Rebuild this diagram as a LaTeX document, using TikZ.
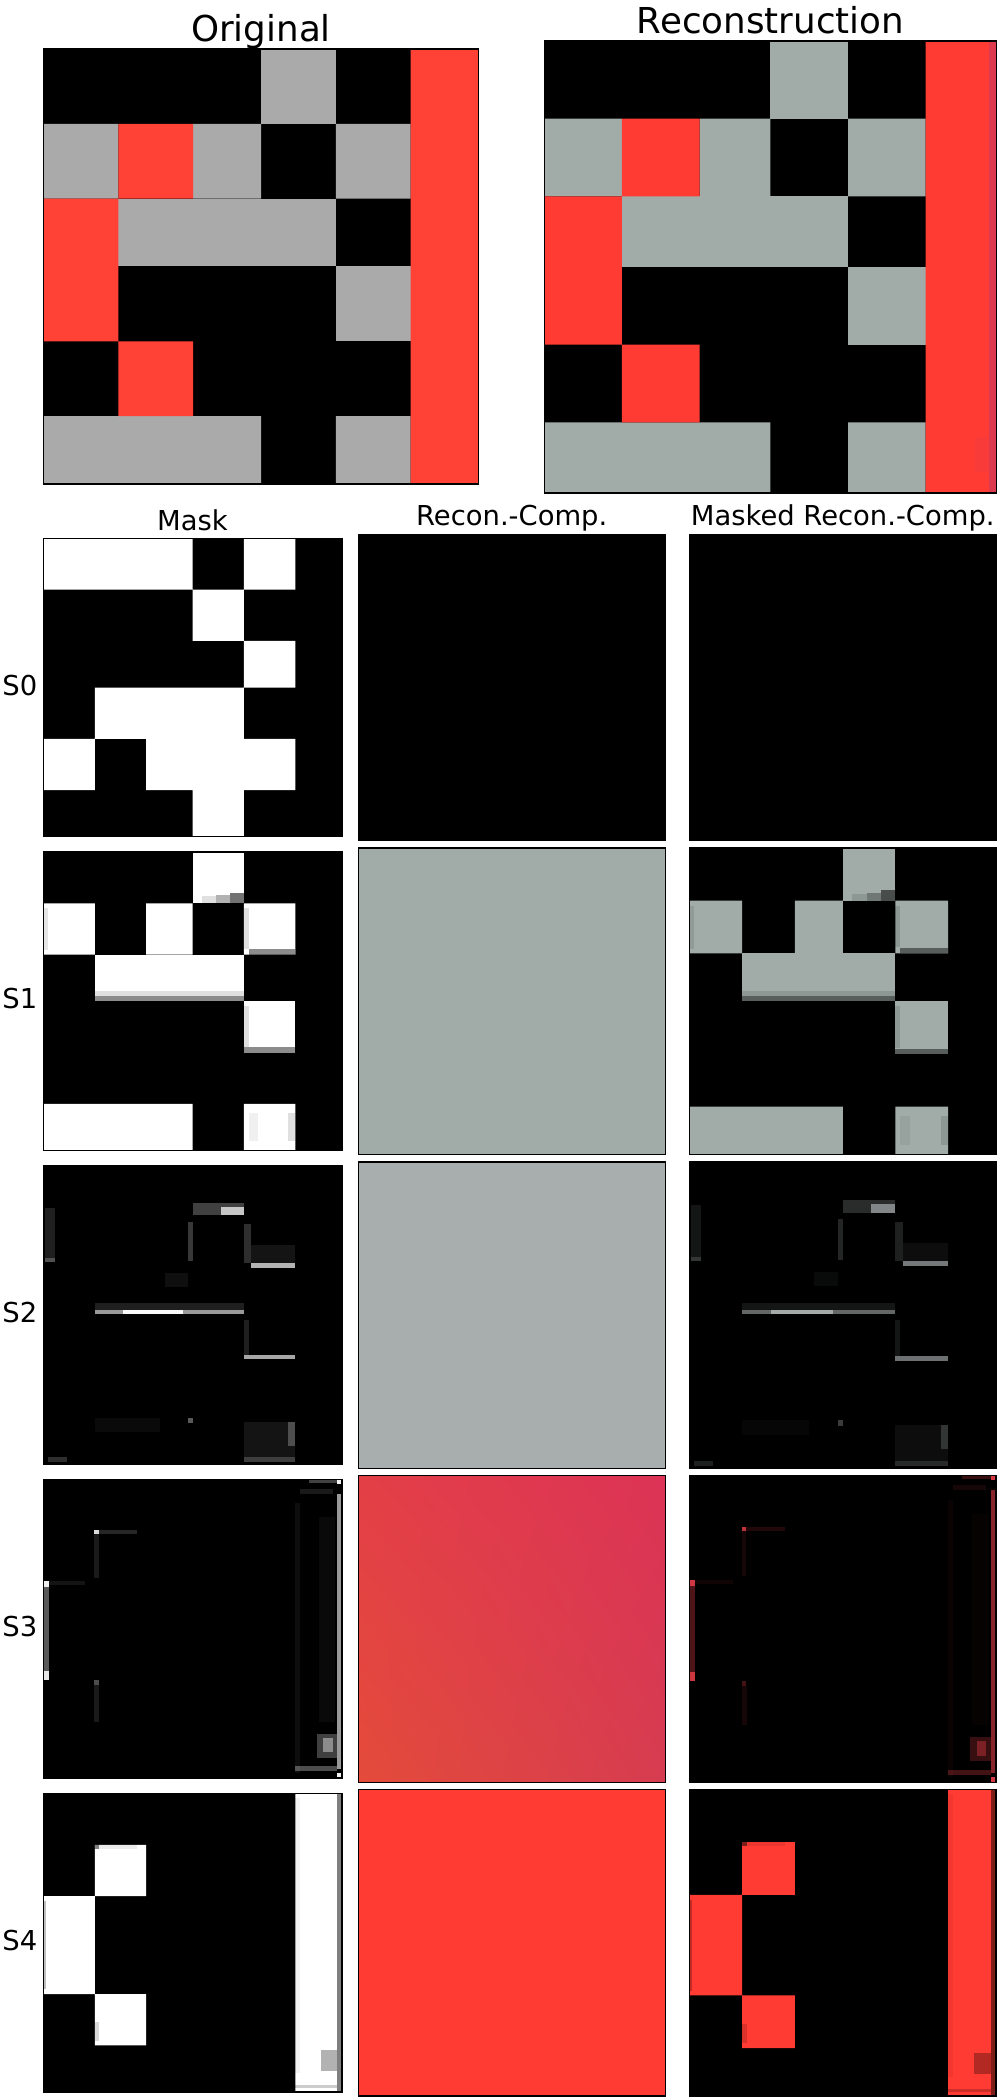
\documentclass[tikz,border=0pt]{standalone}
\usepackage{fontspec}
\setmainfont{DejaVu Sans}
\usetikzlibrary{shadings}
\definecolor{ogray}{RGB}{170,170,170}
\definecolor{ored}{RGB}{255,65,54}
\definecolor{rgray}{RGB}{161,172,168}
\definecolor{rred}{RGB}{255,59,51}
\definecolor{redge}{RGB}{220,58,79}
\definecolor{gtwo}{RGB}{168,173,173}
\definecolor{rthree}{RGB}{225,60,70}
\definecolor{tl}{RGB}{227,63,71}
\definecolor{tr}{RGB}{220,51,86}
\definecolor{bl}{RGB}{228,75,58}
\definecolor{br}{RGB}{214,60,80}
\tikzset{
  frame/.style={draw=black, line width=1.3pt},
  titletext/.style={font=\fontsize{35.7}{43}\selectfont, inner sep=0pt},
  headtext/.style={font=\fontsize{27.4}{33}\selectfont, inner sep=0pt},
}
% cell patterns in a 64x64 panel
\newcommand\grayCells[1]{%
  \fill[#1] (32,0) rectangle (43,11);
  \fill[#1] (0,11) rectangle (11,22) (22,11) rectangle (32,22) (43,11) rectangle (54,22);
  \fill[#1] (11,22) rectangle (43,32);
  \fill[#1] (43,32) rectangle (54,43);
  \fill[#1] (0,54) rectangle (32,64) (43,54) rectangle (54,64);}
\newcommand\redCells[1]{%
  \fill[#1] (54,0) rectangle (64,64) (11,11) rectangle (22,22) (0,22) rectangle (11,43) (11,43) rectangle (22,54);}
\newcommand\blackCells[1]{%
  \fill[#1] (0,0) rectangle (32,11) (43,0) rectangle (54,11) (32,11) rectangle (43,22)
    (43,22) rectangle (54,32) (11,32) rectangle (43,43) (0,43) rectangle (11,54)
    (22,43) rectangle (54,54) (32,54) rectangle (43,64);}
\newcommand\softOne{%
  \fill[black,opacity=0.12] (34,9.5) rectangle (37,11);
  \fill[black,opacity=0.3] (37,9.3) rectangle (40,11);
  \fill[black,opacity=0.55] (40,8.7) rectangle (43,11);
  \fill[black,opacity=0.12] (43,12) rectangle (44,20.7);
  \fill[black,opacity=0.45] (44,20.8) rectangle (54,22);
  \fill[black,opacity=0.1] (0,12) rectangle (1,21);
  \fill[black,opacity=0.12] (11,29.8) rectangle (43,30.8);
  \fill[black,opacity=0.45] (11,30.8) rectangle (43,32);
  \fill[black,opacity=0.12] (43,33) rectangle (44,41.8);
  \fill[black,opacity=0.45] (43,41.9) rectangle (54,43);
  \fill[black,opacity=0.12] (52.5,56) rectangle (54,62);
  \fill[black,opacity=0.06] (44,56) rectangle (46,62);}
\newcommand\artTwo[1]{%
  \fill[#1,opacity=0.25] (32,8) rectangle (43,10.6);
  \fill[#1,opacity=0.7] (38,8.8) rectangle (43,10.6);
  \fill[#1,opacity=0.12] (0.3,9) rectangle (2.5,20.7);
  \fill[#1,opacity=0.22] (0.3,19.8) rectangle (2.5,20.7);
  \fill[#1,opacity=0.22] (31,12) rectangle (32,20.5);
  \fill[#1,opacity=0.06] (26,23) rectangle (31,26);
  \fill[#1,opacity=0.18] (43,12.5) rectangle (44.5,20.8);
  \fill[#1,opacity=0.08] (44.5,17) rectangle (54,20.8);
  \fill[#1,opacity=0.7] (44.5,20.8) rectangle (54,21.8);
  \fill[#1,opacity=0.12] (11,29.5) rectangle (43,30.9);
  \fill[#1,opacity=0.6] (11,30.9) rectangle (43,31.8);
  \fill[#1,opacity=0.95] (17,30.9) rectangle (30,31.8);
  \fill[#1,opacity=0.12] (43,33) rectangle (44,40.5);
  \fill[#1,opacity=0.65] (43,40.5) rectangle (54,41.5);
  \fill[#1,opacity=0.08] (43,55) rectangle (54,63.5);
  \fill[#1,opacity=0.25] (52.5,55) rectangle (54,60);
  \fill[#1,opacity=0.18] (43,62.5) rectangle (54,63.5);
  \fill[#1,opacity=0.35] (31,54) rectangle (32,55.2);
  \fill[#1,opacity=0.04] (11,54) rectangle (25,57);
  \fill[#1,opacity=0.18] (1,62.5) rectangle (5,63.5);}
\newcommand\artThree[1]{%
  \fill[#1,opacity=0.6] (63,3) rectangle (63.7,62);
  \fill[#1,opacity=0.95] (63,0) rectangle (63.7,1);
  \fill[#1,opacity=0.25] (57,0) rectangle (63,0.8);
  \fill[#1,opacity=0.95] (63,63) rectangle (63.7,64);
  \fill[#1,opacity=0.35] (0.2,21.8) rectangle (1.1,42.9);
  \fill[#1,opacity=0.9] (0.2,21.8) rectangle (1.1,23);
  \fill[#1,opacity=0.85] (0.2,41) rectangle (1.1,42.9);
  \fill[#1,opacity=0.08] (1.1,21.8) rectangle (9,22.6);
  \fill[#1,opacity=0.85] (10.9,10.7) rectangle (11.8,11.6);
  \fill[#1,opacity=0.15] (11.8,10.7) rectangle (20,11.6);
  \fill[#1,opacity=0.1] (10.9,11.6) rectangle (11.8,21);
  \fill[#1,opacity=0.3] (10.9,42.9) rectangle (11.8,44);
  \fill[#1,opacity=0.1] (10.9,44) rectangle (12,52);
  \fill[#1,opacity=0.05] (53.9,5) rectangle (55,63);
  \fill[#1,opacity=0.1] (55,2) rectangle (62,3);
  \fill[#1,opacity=0.035] (59,8) rectangle (62.5,52);
  \fill[#1,opacity=0.25] (58.6,54.6) rectangle (62.9,59.6);
  \fill[#1,opacity=0.4] (60,55.5) rectangle (62,58.5);
  \fill[#1,opacity=0.3] (53.9,61.4) rectangle (63,62.5);}
\newcommand\softFour{%
  \fill[black,opacity=0.5] (63,0) rectangle (64,64);
  \fill[black,opacity=0.05] (54,1) rectangle (55,60);
  \fill[black,opacity=0.3] (59.5,55) rectangle (63,59.5);
  \fill[black,opacity=0.2] (54,62.5) rectangle (63,63.2);
  \fill[black,opacity=0.25] (0,23) rectangle (0.6,42);
  \fill[black,opacity=0.5] (11,10.7) rectangle (12,11.8);
  \fill[black,opacity=0.08] (12,10.7) rectangle (20,11.8);
  \fill[black,opacity=0.15] (11,49) rectangle (12,53);}
\begin{document}
\begin{tikzpicture}[x=1pt,y=-1pt]
\useasboundingbox (0,0) rectangle (1000,2100);
\fill[white] (0,0) rectangle (1000,2100);

% ---------- titles ----------
\node[titletext, anchor=base] (tOrig) at (261,41.7) {Original};
\node[titletext, anchor=base] (tRec) at (770.5,33.3) {Reconstruction};

% ---------- Original ----------
\begin{scope}[shift={(43.5,49)}, scale=6.796875]
  \fill[black] (0,0) rectangle (64,64);
  \grayCells{ogray}
  \redCells{ored}
  \draw[frame] (0,0) rectangle (64,64);
\end{scope}

% ---------- Reconstruction ----------
\begin{scope}[shift={(544.3,41)}, scale=7.0625]
  \fill[black] (0,0) rectangle (64,64);
  \grayCells{rgray}
  \redCells{rred}
  \fill[redge] (63,0) rectangle (64,64);
  \fill[redge,opacity=0.2] (61,56) rectangle (63,61);
  \draw[frame] (0,0) rectangle (64,64);
\end{scope}

% ---------- column headers ----------
\node[headtext, anchor=base] (hMask) at (192.5,530) {Mask};
\node[headtext, anchor=base] (hRC) at (511.7,525) {Recon.-Comp.};
\node[headtext, anchor=base] (hMRC) at (842.75,525) {Masked Recon.-Comp.};

% ---------- row labels ----------
\node[headtext, anchor=base east] (l0) at (37.5,695) {S0};
\node[headtext, anchor=base east] (l1) at (37.5,1008.8) {S1};
\node[headtext, anchor=base east] (l2) at (37.5,1322.6) {S2};
\node[headtext, anchor=base east] (l3) at (37.5,1636.4) {S3};
\node[headtext, anchor=base east] (l4) at (37.5,1950.2) {S4};

% ---------- S0 ----------
\begin{scope}[shift={(43.5,538.3)}, scale=4.6625]
  \fill[black] (0,0) rectangle (64,64);
  \blackCells{white}
  \draw[frame] (0,0) rectangle (64,64);
\end{scope}
\begin{scope}[shift={(358.8,534.25)}, scale=4.7890625]
  \fill[black] (0,0) rectangle (64,64);
  \draw[frame] (0,0) rectangle (64,64);
\end{scope}
\begin{scope}[shift={(689.5,534.25)}, scale=4.7890625]
  \fill[black] (0,0) rectangle (64,64);
  \draw[frame] (0,0) rectangle (64,64);
\end{scope}

% ---------- S1 ----------
\begin{scope}[shift={(43.5,852.1)}, scale=4.6625]
  \fill[black] (0,0) rectangle (64,64);
  \grayCells{white}
  \softOne
  \draw[frame] (0,0) rectangle (64,64);
\end{scope}
\begin{scope}[shift={(358.8,848.05)}, scale=4.7890625]
  \fill[rgray] (0,0) rectangle (64,64);
  \draw[frame] (0,0) rectangle (64,64);
\end{scope}
\begin{scope}[shift={(689.5,848.05)}, scale=4.7890625]
  \fill[black] (0,0) rectangle (64,64);
  \grayCells{rgray}
  \softOne
  \draw[frame] (0,0) rectangle (64,64);
\end{scope}

% ---------- S2 ----------
\begin{scope}[shift={(43.5,1165.9)}, scale=4.6625]
  \fill[black] (0,0) rectangle (64,64);
  \artTwo{white}
  \draw[frame] (0,0) rectangle (64,64);
\end{scope}
\begin{scope}[shift={(358.8,1161.85)}, scale=4.7890625]
  \fill[gtwo] (0,0) rectangle (64,64);
  \draw[frame] (0,0) rectangle (64,64);
\end{scope}
\begin{scope}[shift={(689.5,1161.85)}, scale=4.7890625]
  \fill[black] (0,0) rectangle (64,64);
  \artTwo{gtwo}
  \draw[frame] (0,0) rectangle (64,64);
\end{scope}

% ---------- S3 ----------
\begin{scope}[shift={(43.5,1479.7)}, scale=4.6625]
  \fill[black] (0,0) rectangle (64,64);
  \artThree{white}
  \draw[frame] (0,0) rectangle (64,64);
\end{scope}
\begin{scope}[shift={(358.8,1475.65)}, scale=4.7890625]
  \shade[upper left=tl, upper right=tr, lower left=bl, lower right=br] (0,0) rectangle (64,64);
  \draw[frame] (0,0) rectangle (64,64);
\end{scope}
\begin{scope}[shift={(689.5,1475.65)}, scale=4.7890625]
  \fill[black] (0,0) rectangle (64,64);
  \artThree{rthree}
  \draw[frame] (0,0) rectangle (64,64);
\end{scope}

% ---------- S4 ----------
\begin{scope}[shift={(43.5,1793.5)}, scale=4.6625]
  \fill[black] (0,0) rectangle (64,64);
  \redCells{white}
  \softFour
  \draw[frame] (0,0) rectangle (64,64);
\end{scope}
\begin{scope}[shift={(358.8,1789.45)}, scale=4.7890625]
  \fill[rred] (0,0) rectangle (64,64);
  \draw[frame] (0,0) rectangle (64,64);
\end{scope}
\begin{scope}[shift={(689.5,1789.45)}, scale=4.7890625]
  \fill[black] (0,0) rectangle (64,64);
  \redCells{rred}
  \softFour
  \draw[frame] (0,0) rectangle (64,64);
\end{scope}
\end{tikzpicture}
\end{document}
